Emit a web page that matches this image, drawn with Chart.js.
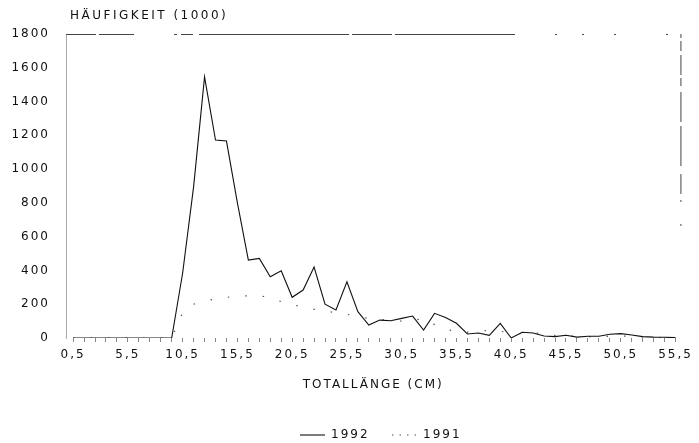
<!DOCTYPE html>
<html>
<head>
<meta charset="utf-8">
<script src="https://cdn.jsdelivr.net/npm/chart.js@4"></script>
<style>
html,body{margin:0;padding:0;background:#fff;}
#wrap{width:699px;height:443px;}
</style>
</head>
<body>
<div id="wrap"><canvas id="c" width="699" height="443"></canvas></div>
<script>
// Length classes (cm)
const lengths = [0.5,1.5,2.5,3.5,4.5,5.5,6.5,7.5,8.5,9.5,10.5,11.5,12.5,13.5,14.5,15.5,16.5,17.5,18.5,19.5,
  20.5,21.5,22.5,23.5,24.5,25.5,26.5,27.5,28.5,29.5,30.5,31.5,32.5,33.5,34.5,35.5,36.5,37.5,38.5,39.5,
  40.5,41.5,42.5,43.5,44.5,45.5,46.5,47.5,48.5,49.5,50.5,51.5,52.5,53.5,54.5,55.5];
// Frequency (1000), 1992
const values1992 = [0,0,0,0,0,0,0,0,0,0,385,895,1546,1172,1166,800,461,471,363,398,
  241,284,420,200,166,333,156,77,106,102,116,130,47,146,122,87,24,30,16,87,
  0,34,30,12,8,16,5,10,10,22,26,18,8,5,4,2];
// Frequency (1000), 1991
const values1991 = [0,0,0,0,0,0,0,0,0,0,150,200,220,230,240,250,250,250,240,215,
  200,180,170,160,150,140,130,115,110,105,100,105,115,80,50,40,35,40,45,40,
  30,25,30,25,15,12,10,8,8,10,12,10,6,4,2,1];
const yTicks = [0,200,400,600,800,1000,1200,1400,1600,1800];
const xLabelTicks = [0.5,5.5,10.5,15.5,20.5,25.5,30.5,35.5,40.5,45.5,50.5,55.5];
const yTitle = 'HÄUFIGKEIT (1000)';
const xTitle = 'TOTALLÄNGE (CM)';

const FONT = '"DejaVu Sans", sans-serif';
const fmt = v => String(v).replace('.', ',');

const spacingPlugin = {
  id: 'spacing',
  beforeInit(chart){ chart.ctx.letterSpacing = '2px'; },
  beforeLayout(chart){ chart.ctx.letterSpacing = '2px'; },
  beforeDraw(chart){ chart.ctx.letterSpacing = '2px'; }
};

const decoPlugin = {
  id: 'deco',
  afterDraw(chart){
    const ctx = chart.ctx, a = chart.chartArea;
    ctx.save();
    ctx.letterSpacing = '2px';
    // frame top and right (degraded dashed look)
    ctx.strokeStyle = '#444';
    ctx.lineWidth = 1;
    ctx.setLineDash([30,3,35,40,3,4,12,6,150,3,40,3,120,40,2,25,2,30,2,50,2,40]);
    ctx.beginPath(); ctx.moveTo(a.left, a.top + 0.5); ctx.lineTo(a.right, a.top + 0.5); ctx.stroke();
    ctx.setLineDash([4,3,10,4,20,3,8,6,30,4,40,8,20,6,2,22,2,400]);
    ctx.beginPath(); ctx.moveTo(a.right + 0.5, a.top); ctx.lineTo(a.right + 0.5, a.top + 230); ctx.stroke();
    ctx.setLineDash([]);
    // y title
    ctx.fillStyle = '#111';
    ctx.font = '12px ' + FONT;
    ctx.textBaseline = 'middle';
    ctx.textAlign = 'left';
    ctx.letterSpacing = '2.5px';
    ctx.fillText(yTitle, 70, 16);
    ctx.letterSpacing = '2px';
    // legend
    const ds = chart.data.datasets;
    const ly = 435;
    ctx.strokeStyle = ds[0].borderColor; ctx.lineWidth = ds[0].borderWidth;
    ctx.beginPath(); ctx.moveTo(300, ly); ctx.lineTo(325, ly); ctx.stroke();
    ctx.fillText(ds[0].label, 331, ly);
    ctx.strokeStyle = ds[1].borderColor; ctx.lineWidth = 1.2;
    ctx.setLineDash([1.5,6]);
    ctx.beginPath(); ctx.moveTo(392, ly); ctx.lineTo(416, ly); ctx.stroke();
    ctx.setLineDash([]);
    ctx.fillText(ds[1].label, 423, ly);
    ctx.restore();
  }
};

new Chart(document.getElementById('c'), {
  type: 'line',
  data: {
    datasets: [
      { label: '1992', data: lengths.map((x,i)=>({x, y: values1992[i]})),
        borderColor: '#111', borderWidth: 1.1, pointRadius: 0, tension: 0, fill: false },
      { label: '1991', data: lengths.map((x,i)=>({x, y: values1991[i]})),
        borderColor: '#555', borderWidth: 1.2, borderDash: [1.5, 16], pointRadius: 0, tension: 0, fill: false }
    ]
  },
  plugins: [spacingPlugin, decoPlugin],
  options: {
    responsive: false,
    animation: false,
    devicePixelRatio: 1,
    layout: { padding: { top: 34, right: 17, bottom: 51, left: 0 } },
    plugins: { legend: { display: false }, title: { display: false }, tooltip: { enabled: false } },
    scales: {
      x: {
        type: 'linear', min: -0.15, max: 55.95,
        afterBuildTicks: s => { s.ticks = lengths.map(v => ({ value: v })); },
        afterFit: s => { s.height = 54; },
        border: { display: false },
        grid: { display: true, drawOnChartArea: false, drawTicks: true, tickLength: 4, color: '#888', lineWidth: 1 },
        ticks: {
          autoSkip: false, maxRotation: 0, minRotation: 0, padding: 6,
          color: '#111', font: { family: FONT, size: 12 },
          callback: v => xLabelTicks.includes(v) ? fmt(v) : ''
        },
        title: { display: true, text: xTitle, color: '#111', font: { family: FONT, size: 12 }, padding: 0 }
      },
      y: {
        min: 0, max: 1800,
        afterBuildTicks: s => { s.ticks = yTicks.map(v => ({ value: v })); },
        afterFit: s => { s.width = 66; },
        border: { display: true, color: '#aaa', dash: [1, 4], width: 1 },
        grid: { display: false, drawTicks: false },
        ticks: { padding: 16, color: '#111', font: { family: FONT, size: 12 }, callback: v => String(v) }
      }
    }
  }
});
</script>
</body>
</html>
